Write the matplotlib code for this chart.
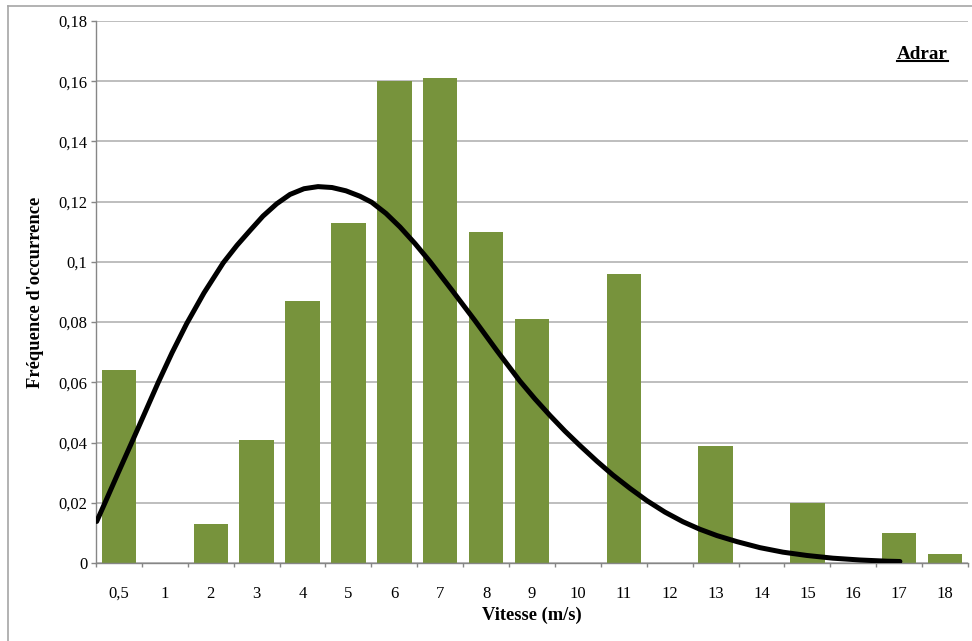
import matplotlib
matplotlib.use("Agg")
import matplotlib.pyplot as plt
from matplotlib.lines import Line2D
from matplotlib.ticker import FixedLocator, FuncFormatter

# Wind speed classes (m/s) and observed frequency of occurrence
speed_labels = ["0,5", "1", "2", "3", "4", "5", "6", "7", "8", "9",
                "10", "11", "12", "13", "14", "15", "16", "17", "18"]
frequencies = [0.064, 0.0, 0.013, 0.041, 0.087, 0.113, 0.160, 0.161, 0.110,
               0.081, 0.0, 0.096, 0.0, 0.039, 0.0, 0.020, 0.0, 0.010, 0.003]

# Fitted distribution curve, in category-axis positions
fit_pos = [-0.485, -0.304, -0.021, 0.278, 0.568, 0.857, 1.156, 1.476, 1.853,
           2.273, 2.572, 2.855, 3.138, 3.437, 3.727, 4.032, 4.337, 4.642,
           4.947, 5.252, 5.507, 5.818, 6.123, 6.450, 6.777, 7.256, 7.757,
           8.236, 8.737, 9.064, 9.391, 9.718, 10.045, 10.415, 10.764, 11.134,
           11.504, 11.897, 12.289, 12.659, 13.030, 13.465, 13.966, 14.467,
           14.990, 15.557, 16.145, 16.733, 17.016]
fit_val = [0.0138, 0.0200, 0.0298, 0.0400, 0.0500, 0.0600, 0.0698, 0.0795,
           0.0897, 0.0997, 0.1055, 0.1104, 0.1152, 0.1193, 0.1224, 0.1243,
           0.1250, 0.1247, 0.1236, 0.1218, 0.1198, 0.1161, 0.1116, 0.1061,
           0.1001, 0.0906, 0.0805, 0.0705, 0.0604, 0.0545, 0.0490, 0.0438,
           0.0390, 0.0338, 0.0292, 0.0248, 0.0207, 0.0169, 0.0137, 0.0112,
           0.0091, 0.0071, 0.0051, 0.0036, 0.0025, 0.0016, 0.0010, 0.0006,
           0.0005]

y_ticks = [0, 0.02, 0.04, 0.06, 0.08, 0.1, 0.12, 0.14, 0.16, 0.18]

serif = ["Liberation Serif", "DejaVu Serif"]
plt.rcParams["font.family"] = serif

W, H = 972, 641
fig = plt.figure(figsize=(W / 100, H / 100), dpi=100)
ax = fig.add_axes([96 / W, 1 - 563 / H, (968 - 96) / W, (563 - 21) / H])

n = len(speed_labels)
pos = list(range(n))

ax.bar(pos, frequencies, width=0.75, color="#77933C", zorder=2)
ax.plot(fit_pos, fit_val, color="black", lw=3.6, solid_capstyle="round",
        solid_joinstyle="round", zorder=3)

ax.set_xlim(-0.5, n - 0.5)
ax.set_ylim(0, 0.18)

# y axis
ax.yaxis.set_major_locator(FixedLocator(y_ticks))
ax.yaxis.set_major_formatter(FuncFormatter(
    lambda v, _: "0" if v == 0 else f"{v:g}".replace(".", ",")))
ax.grid(axis="y", color="#BEBEBE", lw=1.4, zorder=0)
ax.set_axisbelow(True)
ax.tick_params(axis="y", direction="out", length=3.6, width=1,
               color="#868686", pad=2.5, labelsize=12)

# x axis: labels at category centres, ticks at category boundaries
ax.set_xticks(pos)
ax.set_xticklabels(speed_labels)
ax.set_xticks([p - 0.5 for p in range(n + 1)], minor=True)
ax.tick_params(axis="x", which="major", length=0, pad=25, labelsize=12)
ax.tick_params(axis="x", which="minor", direction="out", length=3,
               width=1, color="#868686")
for lab in ax.get_xticklabels():
    lab.set_verticalalignment("baseline")

for side in ("top", "right"):
    ax.spines[side].set_visible(False)
for side in ("left", "bottom"):
    ax.spines[side].set_color("#868686")
    ax.spines[side].set_linewidth(1.0)

fig.text(532 / W, 1 - 615 / H, "Vitesse (m/s)", ha="center", va="center",
         fontsize=13.3, fontweight="bold")
fig.text(36 / W, 1 - 292 / H, "Fréquence d'occurrence", ha="center",
         va="center", rotation=90, fontsize=13.3, fontweight="bold")

# Station name, underlined
title = ax.text(0.977, 0.9307, "Adrar", transform=ax.transAxes, ha="right",
                va="baseline", fontsize=13.8, fontweight="bold")
fig.canvas.draw()
bb = title.get_window_extent(renderer=fig.canvas.get_renderer())
uy = 1 - 60.5 / H
fig.add_artist(Line2D([bb.x0 / W, bb.x1 / W], [uy, uy], color="black",
                      lw=1.5, transform=fig.transFigure))

# Chart frame
fig.add_artist(Line2D([7.5 / W, 7.5 / W], [0, 1 - 5.5 / H], color="#A6A6A6",
                      lw=1.2, transform=fig.transFigure))
fig.add_artist(Line2D([7.5 / W, 1], [1 - 5.5 / H, 1 - 5.5 / H],
                      color="#A6A6A6", lw=1.2, transform=fig.transFigure))

fig.savefig("out.png", dpi=100)
